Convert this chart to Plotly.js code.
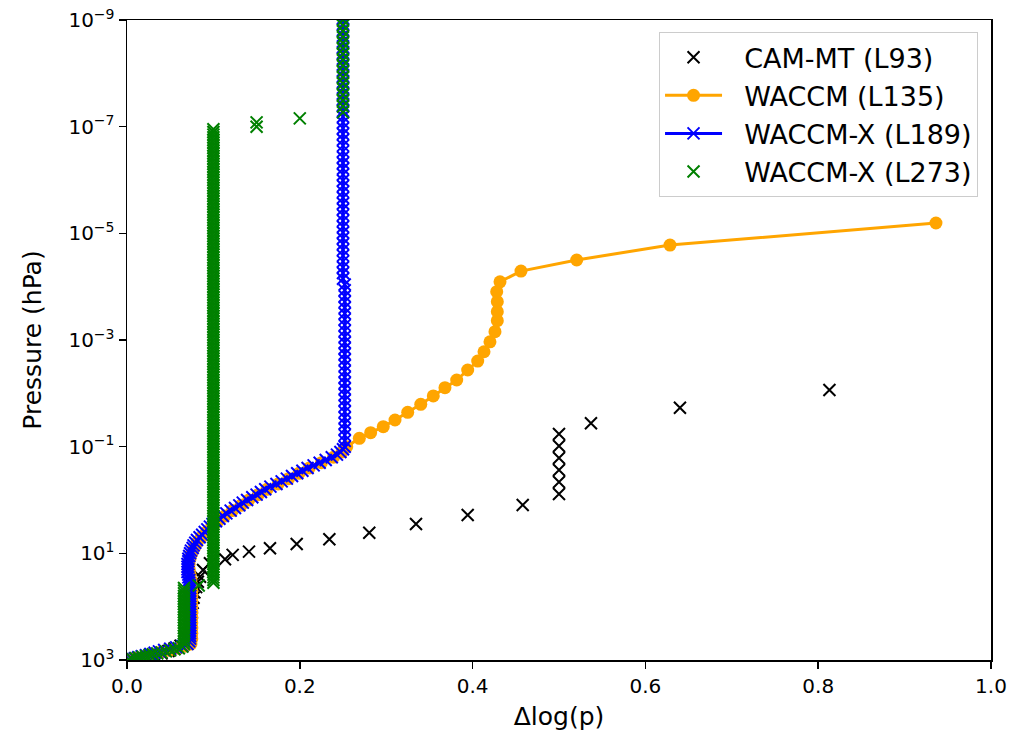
<!DOCTYPE html>
<html>
<head>
<meta charset="utf-8">
<script src="https://cdn.plot.ly/plotly-3.0.1.min.js"></script>
<style>
html,body{margin:0;padding:0;background:#fff;}
#chart{width:1011px;height:734px;}
</style>
</head>
<body>
<div id="chart"></div>
<script>
// ---------------- DATA ----------------
// x = Δlog(p), y = pressure (hPa)

// CAM-MT (L93)
const camDlogp = [0.003,0.007,0.012,0.018,0.025,0.032,0.040,0.048,0.055,0.062,
                  0.067,0.070,0.072,0.073,0.073,0.074,0.074,0.075,0.075,0.076,
                  0.077,0.078,0.080,0.082,0.0845,0.088,0.096,0.1134,0.1223,0.1412,
                  0.1655,0.1964,0.2342,0.2804,0.3345,0.3943,0.458,0.5,0.5,0.5,
                  0.5,0.5,0.5,0.537,0.640,0.813];
const camP = [992,975,950,915,870,815,750,680,610,540,
              470,400,340,285,235,195,160,130,105,85,
              68,54,43,34,27.4,20.5,15.4,12.9,10.7,9.3,
              8.05,6.68,5.46,4.1,2.82,1.91,1.24,0.772,0.46,0.274,
              0.163,0.0971,0.0579,0.0365,0.0186,0.00866];

// WACCM (L135)
const waccmDlogp = [0.004,0.011,0.019,0.028,0.038,0.049,0.060,0.068,
                    0.074,0.075,0.075,0.075,0.075,0.075,0.075,0.075,0.075,0.075,
                    0.075,0.075,0.074,0.073,0.072,0.072,0.073,0.075,0.078,0.081,
                    0.086,0.092,0.098,0.105,0.113,0.122,0.132,0.141,0.152,0.162,
                    0.175,0.187,0.199,0.211,0.225,0.239,0.249,
                    0.2543,0.2689,0.282,0.2966,0.3102,0.3249,0.340,0.3545,0.368,0.3816,
                    0.3943,0.4059,0.4132,0.4201,0.4259,0.4286,0.4286,0.4286,0.4279,0.4317,
                    0.456,0.5205,0.6285,0.9363];
const waccmP = [985,930,865,795,725,660,600,545,
                501,398,316,251,200,158,126,100,79.4,63.1,
                50.1,39.8,31.6,25.1,20,15.8,12.6,10,7.94,6.31,
                5.01,3.98,3.16,2.51,2,1.58,1.26,1,0.794,0.631,
                0.501,0.398,0.316,0.251,0.2,0.158,0.126,
                0.1,0.0697,0.0547,0.0422,0.0316,0.0227,0.0161,0.0112,0.00783,0.00562,
                0.00365,0.00248,0.00166,0.00108,0.000698,0.000435,0.000294,0.000191,0.000124,0.000081,
                0.000051,0.0000316,0.0000166,0.0000064];

// WACCM-X (L189): lower curve
const l189LowDlogp = [0.003,0.006,0.009,0.013,0.017,0.022,0.027,0.032,0.037,0.043,
                      0.050,0.057,0.064,0.070,0.072,
                      0.073,0.073,0.073,0.073,0.073,0.073,0.073,0.073,0.073,0.073,
                      0.073,0.073,0.073,0.073,0.073,0.073,0.073,0.073,0.073,0.073,0.073,
                      0.072,0.072,0.071,0.071,0.070,0.070,0.070,0.070,0.071,0.071,
                      0.072,0.073,0.074,0.076,0.077,0.079,0.081,0.084,0.087,0.090,
                      0.093,0.096,0.099,0.103,0.107,0.111,0.115,0.120,0.125,0.130,
                      0.134,0.139,0.145,0.150,0.155,0.160,0.166,0.173,0.179,0.185,
                      0.191,0.197,0.203,0.209,0.216,0.223,0.230,0.237,0.243,0.247,
                      0.250];
const l189LowP = [990,960,925,890,850,810,770,730,690,650,
                  615,580,545,501,447,
                  398,355,316,282,251,224,200,178,158,141,
                  126,112,100,89.1,79.4,70.8,63.1,56.2,50.1,44.7,39.8,
                  35.5,31.6,28.2,25.1,22.4,20,17.8,15.8,14.1,12.6,
                  11.2,10,8.91,7.94,7.08,6.31,5.62,5.01,4.47,3.98,
                  3.55,3.16,2.82,2.51,2.24,2,1.78,1.58,1.41,1.26,
                  1.12,1,0.891,0.794,0.708,0.631,0.562,0.501,0.447,0.398,
                  0.355,0.316,0.282,0.251,0.224,0.2,0.178,0.158,0.141,0.126,
                  0.112];
// WACCM-X (L189): upper column
const l189ColDlogp = [0.252,0.252,0.252,0.252,0.252,0.252,0.252,0.252,0.252,0.252,
                      0.252,0.252,0.252,0.252,0.252,0.252,0.252,0.252,0.252,0.252,
                      0.252,0.252,0.252,0.252,0.252,0.252,0.252,0.252,0.252,
                      0.25,0.25,0.25,0.25,0.25,0.25,0.25,0.25,0.25,0.25,
                      0.25,0.25,0.25,0.25,0.25,0.25,0.25,0.25,0.25,0.25,
                      0.25,0.25,0.25,0.25,0.25,0.25,0.25,0.25,0.25,0.25,
                      0.25,0.25,0.25,0.25,0.25,0.25,0.25,0.25,0.25,0.25,
                      0.25,0.25,0.25,0.25,0.25,0.25,0.25,0.25];
const l189ColP = [0.1,0.0779,0.0607,0.0472,0.0368,0.0287,0.0223,0.0174,0.0135,0.0106,
                  0.00821,0.0064,0.00498,0.00388,0.00302,0.00235,0.00183,0.00143,0.00111,8.67e-4,
                  6.75e-4,5.26e-4,4.1e-4,3.19e-4,2.48e-4,1.93e-4,1.51e-4,1.17e-4,9.14e-5,
                  7.12e-5,5.54e-5,4.32e-5,3.36e-5,2.62e-5,2.04e-5,1.59e-5,1.24e-5,9.63e-6,7.5e-6,
                  5.84e-6,4.55e-6,3.54e-6,2.76e-6,2.15e-6,1.67e-6,1.3e-6,1.02e-6,7.91e-7,6.16e-7,
                  4.8e-7,3.74e-7,2.91e-7,2.27e-7,1.76e-7,1.37e-7,1.07e-7,8.35e-8,6.5e-8,5.06e-8,
                  3.94e-8,3.07e-8,2.39e-8,1.86e-8,1.45e-8,1.13e-8,8.8e-9,6.85e-9,5.34e-9,4.16e-9,
                  3.24e-9,2.52e-9,1.96e-9,1.53e-9,1.19e-9,9.3e-10,7.2e-10,5.6e-10];

// WACCM-X (L273)
const l273SfcDlogp = [0.002,0.006,0.010,0.014,0.018,0.022,0.026,0.030,0.035,0.040,
                      0.045,0.050,0.055,0.060];
const l273SfcP = [990,960,930,900,870,840,810,780,750,720,
                  690,660,630,600];
const l273LowColDlogp = [0.064,0.066,0.066,0.066,0.066,0.066,0.066,0.066,0.066,0.066,
                         0.066,0.066,0.066,0.066,0.066,0.066,0.066,0.066,0.066,0.066,
                         0.066,0.066,0.066,0.083];
const l273LowColP = [562,501,447,398,355,316,282,251,224,200,
                     178,158,141,126,112,100,89.1,79.4,70.8,63.1,
                     56.2,50.1,44.7,40];
const l273MidColDlogp = [
  0.1,0.1,0.1,0.1,0.1,0.1,0.1,0.1,0.1,0.1,0.1,0.1,0.1,0.1,0.1,0.1,0.1,0.1,0.1,0.1,
  0.1,0.1,0.1,0.1,0.1,0.1,0.1,0.1,0.1,0.1,0.1,0.1,0.1,0.1,0.1,0.1,0.1,0.1,0.1,0.1,
  0.1,0.1,0.1,0.1,0.1,0.1,0.1,0.1,0.1,0.1,0.1,0.1,0.1,0.1,0.1,0.1,0.1,0.1,0.1,0.1,
  0.1,0.1,0.1,0.1,0.1,0.1,0.1,0.1,0.1,0.1,0.1,0.1,0.1,0.1,0.1,0.1,0.1,0.1,0.1,0.1,
  0.1,0.1,0.1,0.1,0.1,0.1,0.1,0.1,0.1,0.1,0.1,0.1,0.1,0.1,0.1,0.1,0.1,0.1,0.1,0.1,
  0.1,0.1,0.1,0.1,0.1,0.1,0.1,0.1,0.1,0.1,0.1,0.1,0.1,0.1,0.1,0.1,0.1,0.1,0.1,0.1,
  0.1,0.1,0.1,0.1,0.1,0.1,0.1,0.1,0.1,0.1,0.1,0.1,0.1,0.1,0.1,0.1,0.1,0.1,0.1,0.1,
  0.1,0.1,0.1,0.1,0.1,0.1,0.1,0.1,0.1,0.1,0.1,0.1,0.1,0.1,0.1,0.1,0.1,0.1,0.1,0.1,
  0.1,0.1,0.1,0.1,0.1,0.1,0.1,0.1,0.1,0.1,0.1];
const l273MidColP = [
  35.5,31.6,28.2,25.1,22.4,20,17.8,15.8,14.1,12.6,11.2,10,
  8.91,7.94,7.08,6.31,5.62,5.01,4.47,3.98,3.55,3.16,2.82,2.51,2.24,2,1.78,1.58,1.41,1.26,1.12,1,
  8.91e-1,7.94e-1,7.08e-1,6.31e-1,5.62e-1,5.01e-1,4.47e-1,3.98e-1,3.55e-1,3.16e-1,2.82e-1,2.51e-1,2.24e-1,2e-1,1.78e-1,1.58e-1,1.41e-1,1.26e-1,1.12e-1,1e-1,
  8.91e-2,7.94e-2,7.08e-2,6.31e-2,5.62e-2,5.01e-2,4.47e-2,3.98e-2,3.55e-2,3.16e-2,2.82e-2,2.51e-2,2.24e-2,2e-2,1.78e-2,1.58e-2,1.41e-2,1.26e-2,1.12e-2,1e-2,
  8.91e-3,7.94e-3,7.08e-3,6.31e-3,5.62e-3,5.01e-3,4.47e-3,3.98e-3,3.55e-3,3.16e-3,2.82e-3,2.51e-3,2.24e-3,2e-3,1.78e-3,1.58e-3,1.41e-3,1.26e-3,1.12e-3,1e-3,
  8.91e-4,7.94e-4,7.08e-4,6.31e-4,5.62e-4,5.01e-4,4.47e-4,3.98e-4,3.55e-4,3.16e-4,2.82e-4,2.51e-4,2.24e-4,2e-4,1.78e-4,1.58e-4,1.41e-4,1.26e-4,1.12e-4,1e-4,
  8.91e-5,7.94e-5,7.08e-5,6.31e-5,5.62e-5,5.01e-5,4.47e-5,3.98e-5,3.55e-5,3.16e-5,2.82e-5,2.51e-5,2.24e-5,2e-5,1.78e-5,1.58e-5,1.41e-5,1.26e-5,1.12e-5,1e-5,
  8.91e-6,7.94e-6,7.08e-6,6.31e-6,5.62e-6,5.01e-6,4.47e-6,3.98e-6,3.55e-6,3.16e-6,2.82e-6,2.51e-6,2.24e-6,2e-6,1.78e-6,1.58e-6,1.41e-6,1.26e-6,1.12e-6,1e-6,
  8.91e-7,7.94e-7,7.08e-7,6.31e-7,5.62e-7,5.01e-7,4.47e-7,3.98e-7,3.55e-7,3.16e-7,2.82e-7,2.51e-7,2.24e-7,2e-7,1.78e-7,1.58e-7,1.41e-7,1.26e-7,1.12e-7];
const l273StepDlogp = [0.15,0.15,0.2];
const l273StepP = [1.0e-7,8.3e-8,7.0e-8];
const l273TopColDlogp = [0.25,0.25,0.25,0.25,0.25,0.25,0.25,0.25,0.25,0.25,
                         0.25,0.25,0.25,0.25,0.25,0.25,0.25,0.25,0.25];
const l273TopColP = [5.4e-8,4.2e-8,3.27e-8,2.55e-8,1.98e-8,1.55e-8,1.2e-8,9.4e-9,7.3e-9,5.7e-9,
                     4.4e-9,3.45e-9,2.7e-9,2.1e-9,1.63e-9,1.27e-9,9.9e-10,7.7e-10,6e-10];

// Axis ticks
const xTickVals = [0, 0.2, 0.4, 0.6, 0.8, 1.0];
const xTickText = ['0.0', '0.2', '0.4', '0.6', '0.8', '1.0'];
const yTickVals = [1e-9, 1e-7, 1e-5, 1e-3, 1e-1, 1e1, 1e3];
const yTickText = ['10<sup>−9</sup>', '10<sup>−7</sup>', '10<sup>−5</sup>', '10<sup>−3</sup>',
                   '10<sup>−1</sup>', '10<sup>1</sup>', '10<sup>3</sup>'];

const seriesNames = ['CAM-MT (L93)', 'WACCM (L135)', 'WACCM-X (L189)', 'WACCM-X (L273)'];
const legendPad = '\u00a0\u00a0'; // gap between legend handle and label

// ---------------- TRACES ----------------
const traces = [
  {
    x: camDlogp, y: camP, name: legendPad + seriesNames[0], legendgroup: 'a',
    type: 'scatter', mode: 'markers',
    marker: {symbol: 'x-thin', size: 12, color: '#000000', line: {color: '#000000', width: 2}}
  },
  {
    x: waccmDlogp, y: waccmP, name: legendPad + seriesNames[1], legendgroup: 'b',
    type: 'scatter', mode: 'lines+markers',
    line: {color: '#ffa500', width: 3},
    marker: {symbol: 'circle', size: 13, color: '#ffa500'}
  },
  {
    x: l189LowDlogp.concat(l189ColDlogp), y: l189LowP.concat(l189ColP),
    name: legendPad + seriesNames[2], legendgroup: 'c',
    type: 'scatter', mode: 'lines+markers',
    line: {color: '#0000ff', width: 3},
    marker: {symbol: 'x-thin', size: 12, color: '#0000ff', line: {color: '#0000ff', width: 2}}
  },
  {
    x: l273SfcDlogp.concat(l273LowColDlogp, l273MidColDlogp, l273StepDlogp, l273TopColDlogp),
    y: l273SfcP.concat(l273LowColP, l273MidColP, l273StepP, l273TopColP),
    name: legendPad + seriesNames[3], legendgroup: 'd',
    type: 'scatter', mode: 'markers',
    marker: {symbol: 'x-thin', size: 12, color: '#008000', line: {color: '#008000', width: 2}}
  }
];

const layout = {
  width: 1011, height: 734,
  margin: {l: 127, r: 20, t: 20, b: 74, autoexpand: false},
  paper_bgcolor: '#ffffff', plot_bgcolor: '#ffffff',
  font: {family: 'DejaVu Sans, sans-serif', color: '#000000', size: 20},
  showlegend: true,
  xaxis: {
    range: [0, 1], tickmode: 'array', tickvals: xTickVals, ticktext: xTickText,
    ticks: 'outside', ticklen: 7, tickwidth: 1.5, tickcolor: '#000000',
    showline: true, linewidth: 1.5, linecolor: '#000000', mirror: true,
    showgrid: false, zeroline: false, automargin: false,
    tickfont: {size: 20},
    title: {text: 'Δlog(p)', font: {size: 25}, standoff: 11}
  },
  yaxis: {
    type: 'log', range: [3, -9], tickmode: 'array', tickvals: yTickVals, ticktext: yTickText,
    ticks: 'outside', ticklen: 7, tickwidth: 1.5, tickcolor: '#000000',
    showline: true, linewidth: 1.5, linecolor: '#000000', mirror: true,
    showgrid: false, zeroline: false, automargin: false,
    tickfont: {size: 20},
    title: {text: 'Pressure (hPa)', font: {size: 25}, standoff: 19}
  },
  legend: {
    x: 0.985, xanchor: 'right', y: 0.981, yanchor: 'top',
    bgcolor: 'rgba(255,255,255,0.8)', bordercolor: '#cccccc', borderwidth: 1,
    font: {size: 27, color: '#000000'}, itemwidth: 57, tracegroupgap: 3,
    traceorder: 'normal'
  }
};

Plotly.newPlot('chart', traces, layout, {displayModeBar: false, staticPlot: true});
</script>
</body>
</html>
